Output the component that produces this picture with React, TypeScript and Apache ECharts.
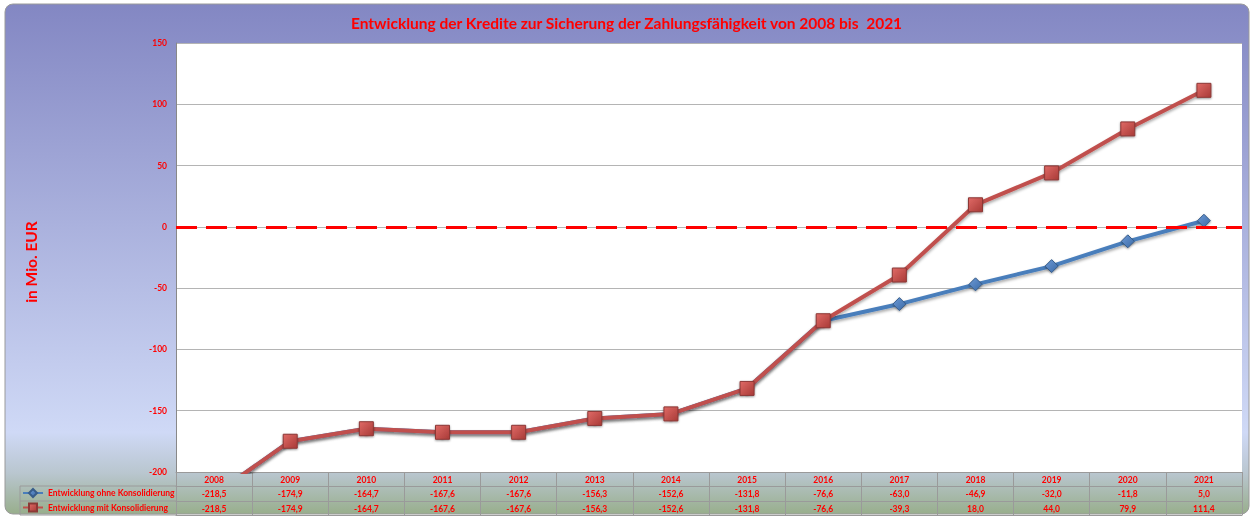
import React, { useEffect, useRef } from "react";
import * as echarts from "echarts";

const years = ["2008", "2009", "2010", "2011", "2012", "2013", "2014", "2015", "2016", "2017", "2018", "2019", "2020", "2021"];
const ohneKons = [-218.5, -174.9, -164.7, -167.6, -167.6, -156.3, -152.6, -131.8, -76.6, -63.0, -46.9, -32.0, -11.8, 5.0];
const mitKons = [-218.5, -174.9, -164.7, -167.6, -167.6, -156.3, -152.6, -131.8, -76.6, -39.3, 18.0, 44.0, 79.9, 111.4];
const seriesNames = ["Entwicklung ohne Konsolidierung", "Entwicklung mit Konsolidierung"];
const titleText = "Entwicklung der Kredite zur Sicherung der Zahlungsfähigkeit von 2008 bis  2021";
const yAxisName = "in Mio. EUR";

const fmt = (v: number) => v.toFixed(1).replace(".", ",");

const RED = "#ff0000";
const FONT = "Lato";
const GRID_LINE = "#9a9a9a";

export default function App() {
  const ref = useRef<HTMLDivElement>(null);
  useEffect(() => {
    if (!ref.current) return;
    const chart = echarts.init(ref.current, undefined, { renderer: "svg" });
    const tableLabel = {
      color: RED,
      fontFamily: FONT,
      fontWeight: "bold" as const,
      fontSize: 8.5,
      interval: 0,
      margin: 3,
    };
    const tableAxis = (offset: number, data: string[], tickLen: number, showLabel: boolean) => ({
      type: "category" as const,
      position: "bottom" as const,
      gridIndex: 0,
      offset,
      data,
      boundaryGap: true,
      axisLine: { show: true, onZero: false, lineStyle: { color: GRID_LINE, width: 1 } },
      axisTick: { show: tickLen > 0, length: tickLen, interval: 0, lineStyle: { color: GRID_LINE, width: 1 } },
      axisLabel: { ...tableLabel, show: showLabel },
      splitLine: { show: false },
    });
    const option: any = {
      animation: false,
      backgroundColor: "transparent",
      title: {
        text: titleText,
        left: "center",
        top: 10,
        textStyle: { color: RED, fontFamily: FONT, fontWeight: "bold", fontSize: 15.5 },
      },
      graphic: [
        {
          type: "rect",
          z: -100,
          silent: true,
          shape: { x: 5, y: 4, width: 1244, height: 510, r: 8 },
          style: {
            fill: {
              type: "linear",
              x: 0,
              y: 0,
              x2: 0,
              y2: 1,
              colorStops: [
                { offset: 0, color: "#8387c3" },
                { offset: 0.84, color: "#cfd9f6" },
                { offset: 0.92, color: "#b9c6cf" },
                { offset: 1, color: "#98ae8c" },
              ],
            },
            stroke: "#9a9a9a",
            lineWidth: 1,
          },
        },
        { type: "line", silent: true, shape: { x1: 20, y1: 486, x2: 176, y2: 486 }, style: { stroke: GRID_LINE, lineWidth: 1 } },
        { type: "line", silent: true, shape: { x1: 20, y1: 501, x2: 176, y2: 501 }, style: { stroke: GRID_LINE, lineWidth: 1 } },
        { type: "line", silent: true, shape: { x1: 20, y1: 515, x2: 176, y2: 515 }, style: { stroke: GRID_LINE, lineWidth: 1 } },
        { type: "line", silent: true, shape: { x1: 20, y1: 486, x2: 20, y2: 515 }, style: { stroke: GRID_LINE, lineWidth: 1 } },
      ],
      legend: {
        orient: "vertical",
        left: 22,
        top: 488,
        height: 40,
        padding: 0,
        itemGap: 4.5,
        itemWidth: 20,
        itemHeight: 10,
        selectedMode: false,
        data: seriesNames,
        textStyle: { color: RED, fontFamily: FONT, fontWeight: "bold", fontSize: 8.5 },
      },
      grid: {
        left: 176,
        right: 11,
        top: 43,
        bottom: 45,
        show: true,
        backgroundColor: "#ffffff",
        borderWidth: 0,
      },
      xAxis: [
        tableAxis(0, years, 14, true),
        tableAxis(14, ohneKons.map(fmt), 15, true),
        tableAxis(29, mitKons.map(fmt), 14, true),
        tableAxis(43, years.map(() => ""), 0, false),
      ],
      yAxis: {
        type: "value",
        min: -200,
        max: 150,
        interval: 50,
        name: yAxisName,
        nameLocation: "middle",
        nameRotate: 90,
        nameGap: 137,
        nameTextStyle: { color: RED, fontFamily: FONT, fontWeight: "bold", fontSize: 15.5, padding: [0, 9, 0, 0] },
        axisLine: { show: true, lineStyle: { color: "#888888", width: 1 } },
        axisTick: { show: false },
        axisLabel: { color: RED, fontFamily: FONT, fontWeight: "bold", fontSize: 8.5, margin: 9 },
        splitLine: { show: true, lineStyle: { color: "#b4b4b4", width: 1 } },
      },
      series: [
        {
          name: seriesNames[0],
          type: "line",
          xAxisIndex: 0,
          data: ohneKons,
          symbol: "diamond",
          symbolSize: 13,
          clip: true,
          lineStyle: { color: "#4a7ebb", width: 4, shadowBlur: 3, shadowColor: "rgba(0,0,0,0.35)", shadowOffsetY: 2 },
          itemStyle: {
            color: {
              type: "linear", x: 0, y: 0, x2: 1, y2: 1,
              colorStops: [{ offset: 0, color: "#6d9ad6" }, { offset: 1, color: "#3b6aa6" }],
            },
            borderColor: "#385d8a",
            borderWidth: 1,
            shadowBlur: 2,
            shadowColor: "rgba(0,0,0,0.4)",
            shadowOffsetY: 1,
          },
          markLine: {
            silent: true,
            symbol: ["none", "none"],
            label: { show: false },
            lineStyle: { color: RED, width: 3, type: [21, 9] },
            data: [{ yAxis: 0 }],
          },
        },
        {
          name: seriesNames[1],
          type: "line",
          xAxisIndex: 0,
          data: mitKons,
          symbol: "rect",
          symbolSize: 14,
          clip: true,
          lineStyle: { color: "#c0504d", width: 4, shadowBlur: 3, shadowColor: "rgba(0,0,0,0.35)", shadowOffsetY: 2 },
          itemStyle: {
            color: {
              type: "linear", x: 0, y: 0, x2: 1, y2: 1,
              colorStops: [{ offset: 0, color: "#e06a66" }, { offset: 1, color: "#a83a37" }],
            },
            borderColor: "#8c3836",
            borderWidth: 1,
            shadowBlur: 2,
            shadowColor: "rgba(0,0,0,0.4)",
            shadowOffsetY: 1,
          },
        },
      ],
    };
    chart.setOption(option);
    return () => chart.dispose();
  }, []);
  return (
    <div style={{ position: "fixed", left: 0, top: 0, width: 1253, height: 517 }}>
      <div ref={ref} style={{ width: 1253, height: 517 }} />
    </div>
  );
}
